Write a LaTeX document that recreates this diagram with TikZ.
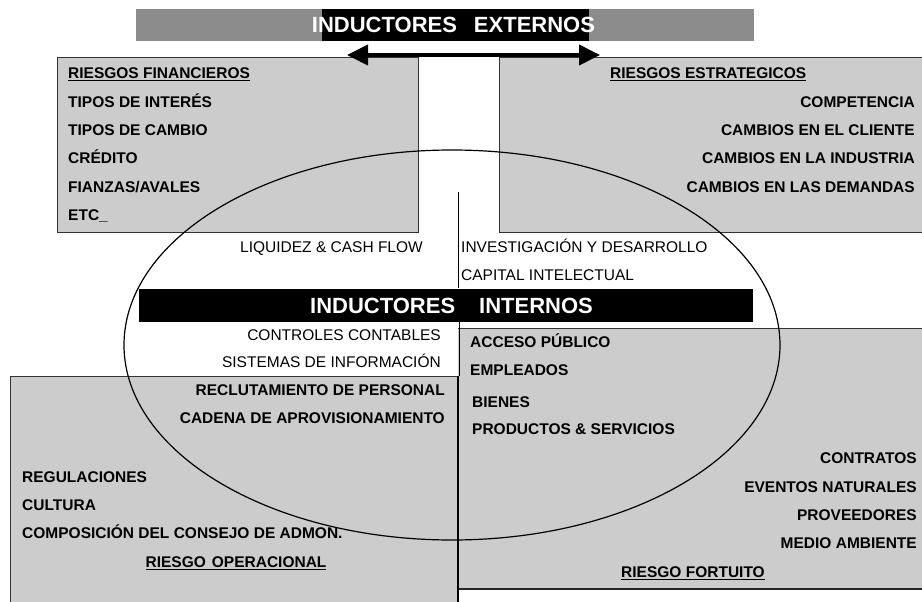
\documentclass[tikz,border=0pt]{standalone}
\usepackage{fontspec}
\setmainfont{Liberation Sans}
\usetikzlibrary{arrows.meta}
\begin{document}
\begin{tikzpicture}[x=1pt,y=-1pt,
  boxfill/.style={fill=black!20},
  boxline/.style={draw=black!80,line width=0.8pt},
  itm/.style={font=\fontsize{15.5}{18}\selectfont\bfseries,inner sep=0pt,text height=11pt,text depth=0pt},
  reg/.style={font=\fontsize{15.5}{18}\selectfont,inner sep=0pt,text height=11pt,text depth=0pt},
  ban/.style={font=\fontsize{22}{26}\selectfont\bfseries,text=white,inner sep=0pt},
  dblarrow/.style={line width=4pt,{Triangle[length=21pt,width=20pt]}-{Triangle[length=21pt,width=20pt]}}
]
\useasboundingbox (0,0) rectangle (922,602);
\fill[white] (0,0) rectangle (922,602);

% top banner
\fill[black!45] (136,9) rectangle (754,41);
\fill[black] (322,9) rectangle (589,41);
\node[ban] (ext) at (453.5,25) {INDUCTORES\hspace{17pt}EXTERNOS};

% upper boxes
\path[boxfill,boxline] (57,57) rectangle (418,232);
\path[boxfill,boxline] (499,57) rectangle (930,232);

% lower boxes
\fill[black!20] (10,376) rectangle (458,610);
\draw[black!80,line width=0.8pt] (10,610) -- (10,376) -- (458,376);
\fill[black!20] (458,328) rectangle (930,589);
\draw[black!80,line width=0.8pt] (458,328) -- (930,328);
\draw[black!85,line width=2pt] (458,589) -- (930,589);
\draw[black,line width=0.8pt] (459,322) -- (459,376);
\draw[black,line width=2.5pt] (458,376) -- (458,610);

% inner banner
\fill[black] (139,289) rectangle (753,322);
\node[ban] (int) at (451.5,305.5) {INDUCTORES\hspace{24pt}INTERNOS};

% vertical line
\coordinate (v1) at (458,192);
\coordinate (v2) at (458,288);
\draw[line width=0.8pt] (v1) -- (v2);

% financial risks
\node[itm,anchor=west] (fh) at (68,73) {\underline{RIESGOS FINANCIEROS}};
\node[itm,anchor=west] (f1) at (68,102) {TIPOS DE INTERÉS};
\node[itm,anchor=west] (f2) at (68,130) {TIPOS DE CAMBIO};
\node[itm,anchor=west] (f3) at (68,158) {CRÉDITO};
\node[itm,anchor=west] (f4) at (68,187) {FIANZAS/AVALES};
\node[itm,anchor=west] (f5) at (68,215) {ETC\_};

% strategic risks
\node[itm,anchor=west] (sh) at (610,73) {\underline{RIESGOS ESTRATEGICOS}};
\node[itm,anchor=east] (s1) at (915,102) {COMPETENCIA};
\node[itm,anchor=east] (s2) at (915,130) {CAMBIOS EN EL CLIENTE};
\node[itm,anchor=east] (s3) at (915,158) {CAMBIOS EN LA INDUSTRIA};
\node[itm,anchor=east] (s4) at (915,187) {CAMBIOS EN LAS DEMANDAS};

% middle texts
\node[reg,anchor=east] (m1) at (423,247) {LIQUIDEZ \& CASH FLOW};
\node[reg,anchor=west] (m2) at (461,247) {INVESTIGACIÓN Y DESARROLLO};
\node[reg,anchor=west] (m3) at (461,275) {CAPITAL INTELECTUAL};
\node[reg,anchor=east] (m4) at (441,335) {CONTROLES CONTABLES};
\node[reg,anchor=east] (m5) at (441,362) {SISTEMAS DE INFORMACIÓN};

% operational risk
\node[itm,anchor=east] (o1) at (445,390) {RECLUTAMIENTO DE PERSONAL};
\node[itm,anchor=east] (o2) at (445,418) {CADENA DE APROVISIONAMIENTO};
\node[itm,anchor=west] (o3) at (22,477) {REGULACIONES};
\node[itm,anchor=west] (o4) at (22,505) {CULTURA};
\node[itm,anchor=west] (o5) at (22,533) {COMPOSICIÓN DEL CONSEJO DE ADMON.};
\node[itm] (oh) at (236,562) {\underline{RIESGO\hspace{6pt}OPERACIONAL}};

% fortuitous risk
\node[itm,anchor=west] (r1) at (470,342) {ACCESO PÚBLICO};
\node[itm,anchor=west] (r2) at (470,370) {EMPLEADOS};
\node[itm,anchor=west] (r3) at (472,402) {BIENES};
\node[itm,anchor=west] (r4) at (472,429) {PRODUCTOS \& SERVICIOS};
\node[itm,anchor=east] (r5) at (917,458) {CONTRATOS};
\node[itm,anchor=east] (r6) at (917,487) {EVENTOS NATURALES};
\node[itm,anchor=east] (r7) at (917,515) {PROVEEDORES};
\node[itm,anchor=east] (r8) at (917,543) {MEDIO AMBIENTE};
\node[itm] (rh) at (693,572) {\underline{RIESGO FORTUITO}};

% ellipse
\draw[line width=1.2pt] (452,345) ellipse [x radius=328pt, y radius=195pt];

% external arrow
\coordinate (aL) at (347,55);
\coordinate (aR) at (600,55);
\draw[dblarrow] (aL) -- (aR);
\end{tikzpicture}
\end{document}
